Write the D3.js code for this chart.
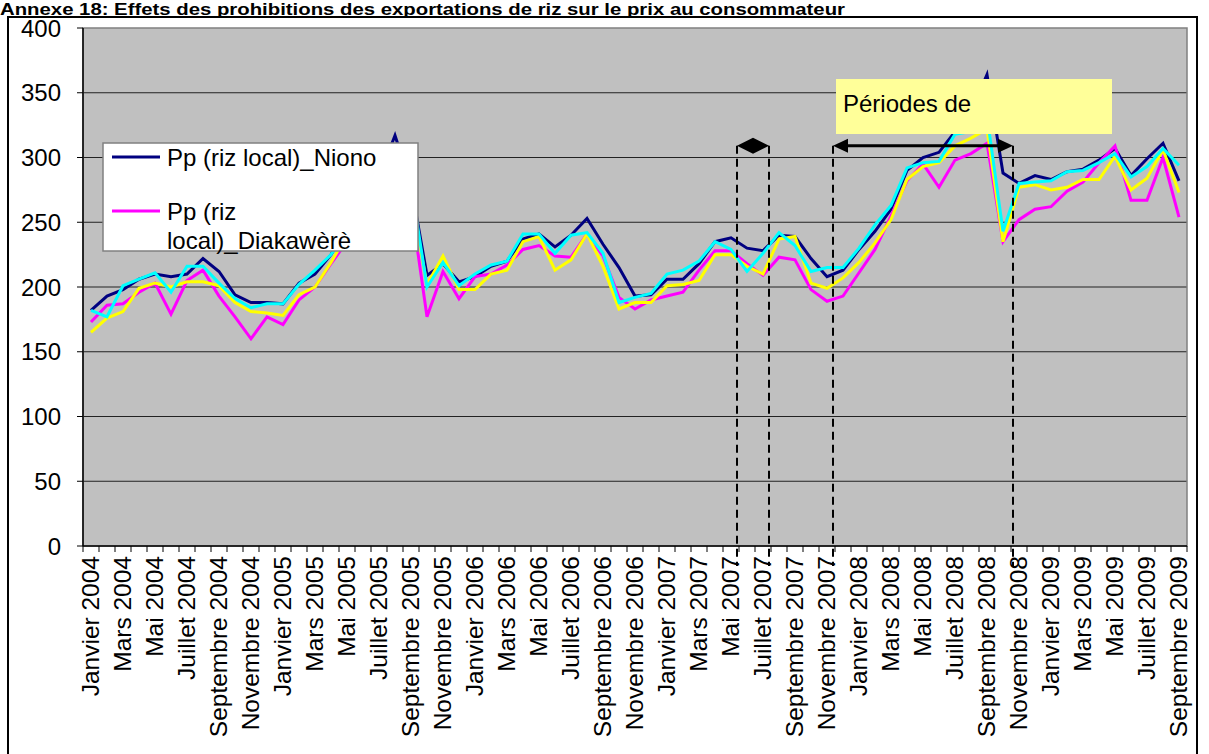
<!DOCTYPE html>
<html><head><meta charset="utf-8">
<script src="https://cdn.jsdelivr.net/npm/d3@7/dist/d3.min.js"></script>
<style>body{margin:0;background:#fff;overflow:hidden} svg{display:block}</style>
</head><body>
<script>
// ---------- DATA ----------
const monthNames = ["Janvier","Février","Mars","Avril","Mai","Juin","Juillet","Août","Septembre","Octobre","Novembre","Décembre"];
const years = [2004,2005,2006,2007,2008,2009];
const months = [];
years.forEach(y => monthNames.forEach(m => { if (months.length < 69) months.push(m + " " + y); }));

const niono = [182,193,198,206,210,208,210,222,212,194,188,188,187,203,210,225,245,262,285,317,279,
  209,218,204,208,216,220,237,241,231,240,253,233,215,193,194,206,206,218,235,238,230,228,240,239,222,208,213,
  229,243,260,290,300,304,320,335,364,288,280,286,283,289,291,298,307,286,299,311,282];
const diakawere = [173,186,187,196,203,179,205,213,193,177,160,177,171,190,200,218,235,250,268,290,264,
  177,212,191,208,210,217,229,232,224,223,241,224,192,183,190,193,196,213,228,228,218,209,223,221,198,189,193,
  211,229,255,282,295,277,298,303,311,235,252,260,262,274,281,296,309,267,267,300,254];
const serieJaune = [165,176,181,199,203,200,204,204,201,188,181,180,178,194,200,219,240,255,275,295,270,
  202,224,198,198,210,213,235,239,213,221,241,216,183,188,188,201,202,205,225,225,216,210,237,239,203,199,207,
  219,234,252,283,293,296,309,315,322,235,277,279,275,277,283,283,301,275,284,306,273];
const serieCyan = [182,177,201,206,211,196,216,216,203,191,184,187,187,202,213,225,243,260,280,300,280,
  200,219,201,210,217,220,241,241,226,240,242,226,188,192,195,210,213,220,235,229,212,226,242,232,212,215,215,
  230,248,263,292,296,297,318,320,332,243,280,281,282,289,290,296,303,285,293,307,294];

const yTicks = [0,50,100,150,200,250,300,350,400];
const seriesColors = ["#000080","#FF00FF","#FFFF00","#00FFFF"];
const legendEntries = [["Pp (riz local)_Niono"],["Pp (riz","local)_Diakawèrè"]];
const titleText = "Annexe 18: Effets des prohibitions des exportations de riz sur le prix au consommateur";
const boxText = "Périodes de";

// ---------- CHART ----------
const W = 1209, H = 754;
const svg = d3.select("body").append("svg").attr("width", W).attr("height", H);
const font = "Arial, 'Liberation Sans', sans-serif";

const x = d3.scaleBand().domain(months).range([83, 1187]).padding(0);
const y = d3.scaleLinear().domain([0, 400]).range([546, 28]);
const bw = x.bandwidth();
const cx = i => x(months[i]) + bw / 2;

// title
svg.append("text").attr("x", 0).attr("y", 15)
  .attr("font-family", "'Liberation Sans Narrow', 'Arial Narrow', Arial, sans-serif")
  .attr("font-weight", "bold").attr("font-size", 16.5)
  .attr("textLength", 845).attr("lengthAdjust", "spacingAndGlyphs")
  .text(titleText);

// outer frame
svg.append("rect").attr("x", 8).attr("y", 17).attr("width", 1189).attr("height", 760)
  .attr("fill", "none").attr("stroke", "#000").attr("stroke-width", 2);

// plot background
svg.append("rect").attr("x", 83).attr("y", 28).attr("width", 1104).attr("height", 518)
  .attr("fill", "#C0C0C0");

// gridlines
svg.append("g").selectAll("line").data(yTicks.filter(v => v > 0 && v < 400)).join("line")
  .attr("x1", 83).attr("x2", 1187).attr("y1", d => y(d)).attr("y2", d => y(d))
  .attr("stroke", "#222").attr("stroke-width", 1);

// plot border
svg.append("rect").attr("x", 83).attr("y", 28).attr("width", 1104).attr("height", 518)
  .attr("fill", "none").attr("stroke", "#808080").attr("stroke-width", 1.5);

// y axis
const yAxis = svg.append("g");
yAxis.append("line").attr("x1", 83).attr("x2", 83).attr("y1", 28).attr("y2", 546).attr("stroke", "#000").attr("stroke-width", 1.5);
yAxis.selectAll("line.t").data(yTicks).join("line").attr("class", "t")
  .attr("x1", 77).attr("x2", 83).attr("y1", d => y(d)).attr("y2", d => y(d)).attr("stroke", "#000");
yAxis.selectAll("text").data(yTicks).join("text")
  .attr("x", 61).attr("y", d => y(d)).attr("dy", "0.36em").attr("text-anchor", "end")
  .attr("font-family", font).attr("font-size", 24).text(d => d);

// x axis
const xAxis = svg.append("g");
xAxis.append("line").attr("x1", 83).attr("x2", 1187).attr("y1", 546).attr("y2", 546).attr("stroke", "#000").attr("stroke-width", 1.5);
const bounds = months.map(m => x(m)).concat([x(months[months.length - 1]) + bw]);
xAxis.selectAll("line.t").data(bounds).join("line").attr("class", "t")
  .attr("x1", d => d).attr("x2", d => d).attr("y1", 546).attr("y2", 552).attr("stroke", "#000");
xAxis.selectAll("text").data(months.filter((m, i) => i % 2 === 0)).join("text")
  .attr("transform", d => `translate(${x(d) + bw / 2 + 8},556) rotate(-90)`)
  .attr("text-anchor", "end").attr("font-family", font).attr("font-size", 24.5).text(d => d);

// lines
const line = d3.line().x((d, i) => cx(i)).y(d => y(d));
[niono, diakawere, serieJaune, serieCyan].forEach((s, k) => {
  svg.append("path").datum(s).attr("d", line).attr("fill", "none")
    .attr("stroke", seriesColors[k]).attr("stroke-width", 3).attr("stroke-linejoin", "miter");
});

// annotations: dashed lines and arrows
const bx = f => x(months[0]) + f * bw;   // position in category units
const ay = y(309);
const dashX = [40.875, 42.875, 46.875, 58.125].map(bx);
svg.append("g").selectAll("line").data(dashX).join("line")
  .attr("x1", d => d).attr("x2", d => d).attr("y1", ay).attr("y2", 566)
  .attr("stroke", "#000").attr("stroke-width", 2).attr("stroke-dasharray", "8,5");

function arrow(x1, x2, headLen, headHalf) {
  const g = svg.append("g");
  g.append("line").attr("x1", x1 + headLen - 1).attr("x2", x2 - headLen + 1).attr("y1", ay).attr("y2", ay)
    .attr("stroke", "#000").attr("stroke-width", 3);
  g.append("path").attr("d", `M${x1},${ay}L${x1 + headLen},${ay - headHalf}L${x1 + headLen},${ay + headHalf}Z`).attr("fill", "#000");
  g.append("path").attr("d", `M${x2},${ay}L${x2 - headLen},${ay - headHalf}L${x2 - headLen},${ay + headHalf}Z`).attr("fill", "#000");
}
arrow(dashX[0], dashX[1], (dashX[1] - dashX[0]) / 2, 8);
arrow(dashX[2], dashX[3], 15, 7);

// yellow text box
svg.append("rect").attr("x", 836).attr("y", 79).attr("width", 276).attr("height", 55).attr("fill", "#FFFF99");
svg.append("text").attr("x", 843).attr("y", 112).attr("font-family", font).attr("font-size", 24).text(boxText);

// legend
const lg = svg.append("g");
lg.append("rect").attr("x", 103).attr("y", 143).attr("width", 315).attr("height", 108)
  .attr("fill", "#fff").attr("stroke", "#808080").attr("stroke-width", 1.5);
const legendY = [157, 211];
legendEntries.forEach((lines, k) => {
  lg.append("line").attr("x1", 112).attr("x2", 160).attr("y1", legendY[k]).attr("y2", legendY[k])
    .attr("stroke", seriesColors[k]).attr("stroke-width", 3);
  lines.forEach((t, j) => {
    lg.append("text").attr("x", 167).attr("y", legendY[k] + 9 + j * 29)
      .attr("font-family", font).attr("font-size", 24).text(t);
  });
});
</script>
</body></html>
